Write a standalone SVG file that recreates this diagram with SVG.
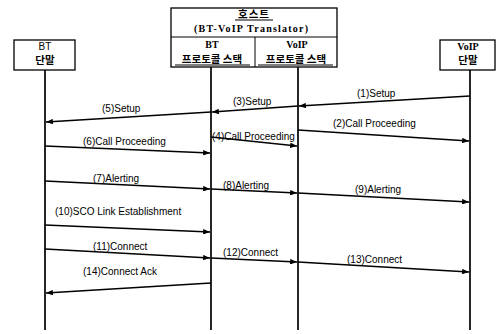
<svg xmlns="http://www.w3.org/2000/svg" width="496" height="334" viewBox="0 0 496 334">
<style>
.box{fill:#fff;stroke:#000;stroke-width:1.3}
.life{stroke:#000;stroke-width:1.7;fill:none}
.msg{stroke:#000;stroke-width:1.3;fill:none}
.lbl{font-family:"Liberation Sans",Arial,sans-serif;font-size:10px;fill:#000}
.ser{font-family:"Liberation Serif","Times New Roman",serif;font-weight:bold;font-size:10px;fill:#000}
.kr{font-family:"Noto Sans CJK KR","Noto Sans",sans-serif;font-weight:bold;font-size:10.5px;fill:#000}
.san{font-family:"Liberation Sans",Arial,sans-serif;font-size:10px;fill:#000}
.ul{stroke:#000;stroke-width:1}
</style>
<defs>
<marker id="ah" viewBox="0 0 10 8" refX="10" refY="4" markerWidth="7" markerHeight="5.5" markerUnits="userSpaceOnUse" orient="auto">
<path d="M0,0 L10,4 L0,8 Z" fill="#000"/>
</marker>
</defs>

<g id="lifelines">
<line class="life" x1="45" y1="70" x2="45" y2="330" stroke-width="1.2"/>
<line class="life" x1="211" y1="67" x2="211" y2="330"/>
<line class="life" x1="298" y1="67" x2="298" y2="330"/>
<line class="life" x1="470" y1="70" x2="470" y2="330"/>
</g>

<g id="node-bt-terminal">
<rect class="box" x="14" y="40" width="61" height="30"/>
<text class="san" x="45" y="50" text-anchor="middle">BT</text>
<text class="kr" x="45" y="64" text-anchor="middle">단말</text>
</g>

<g id="node-voip-terminal">
<rect class="box" x="440" y="40" width="55" height="30"/>
<text class="ser" x="468" y="50" text-anchor="middle">VoIP</text>
<text class="kr" x="468" y="64" text-anchor="middle">단말</text>
</g>

<g id="node-host">
<rect class="box" x="171" y="8" width="166" height="59"/>
<line class="ul" x1="171" y1="37" x2="337" y2="37" stroke-width="1.3"/>
<line class="ul" x1="255" y1="37" x2="255" y2="67" stroke-width="1.3"/>
<text class="kr" x="254" y="18" text-anchor="middle" letter-spacing="1">호스트</text>
<line class="ul" x1="235" y1="20" x2="273" y2="20"/>
<text class="ser" x="251" y="32" text-anchor="middle" textLength="114" lengthAdjust="spacing">(BT-VoIP Translator)</text>
</g>

<g id="node-bt-stack">
<text class="ser" x="212" y="48" text-anchor="middle">BT</text>
<text class="kr" x="212" y="63" text-anchor="middle">프로토콜 스택</text>
<line class="ul" x1="175" y1="65" x2="250" y2="65"/>
</g>

<g id="node-voip-stack">
<text class="ser" x="297" y="48" text-anchor="middle">VoIP</text>
<text class="kr" x="296" y="63" text-anchor="middle">프로토콜 스택</text>
<line class="ul" x1="258" y1="65" x2="333" y2="65"/>
</g>

<g id="connectors">
<line class="msg" x1="470" y1="96" x2="299" y2="106" marker-end="url(#ah)"/>
<line class="msg" x1="298" y1="130" x2="469" y2="141" marker-end="url(#ah)"/>
<line class="msg" x1="298" y1="106" x2="212" y2="112" marker-end="url(#ah)"/>
<line class="msg" x1="211" y1="137" x2="297" y2="146" marker-end="url(#ah)"/>
<line class="msg" x1="211" y1="112" x2="46" y2="122" marker-end="url(#ah)"/>
<line class="msg" x1="45" y1="146" x2="210" y2="153" marker-end="url(#ah)"/>
<line class="msg" x1="45" y1="181" x2="210" y2="189" marker-end="url(#ah)"/>
<line class="msg" x1="211" y1="189" x2="297" y2="193" marker-end="url(#ah)"/>
<line class="msg" x1="298" y1="193" x2="469" y2="202" marker-end="url(#ah)"/>
<line class="msg" x1="45" y1="225" x2="210" y2="232" marker-end="url(#ah)"/>
<line class="msg" x1="45" y1="249" x2="210" y2="258" marker-end="url(#ah)"/>
<line class="msg" x1="211" y1="258" x2="297" y2="262" marker-end="url(#ah)"/>
<line class="msg" x1="298" y1="262" x2="469" y2="272" marker-end="url(#ah)"/>
<line class="msg" x1="211" y1="283" x2="46" y2="293" marker-end="url(#ah)"/>
</g>

<g id="labels">
<text class="lbl" x="357" y="97">(1)Setup</text>
<text class="lbl" x="333" y="127">(2)Call Proceeding</text>
<text class="lbl" x="233" y="105">(3)Setup</text>
<text class="lbl" x="212" y="140">(4)Call Proceeding</text>
<text class="lbl" x="102" y="112">(5)Setup</text>
<text class="lbl" x="83" y="145">(6)Call Proceeding</text>
<text class="lbl" x="93" y="182">(7)Alerting</text>
<text class="lbl" x="223" y="189">(8)Alerting</text>
<text class="lbl" x="355" y="193">(9)Alerting</text>
<text class="lbl" x="55" y="215">(10)SCO Link Establishment</text>
<text class="lbl" x="93" y="250">(11)Connect</text>
<text class="lbl" x="223" y="256">(12)Connect</text>
<text class="lbl" x="347" y="263">(13)Connect</text>
<text class="lbl" x="83" y="275">(14)Connect Ack</text>
</g>
</svg>
